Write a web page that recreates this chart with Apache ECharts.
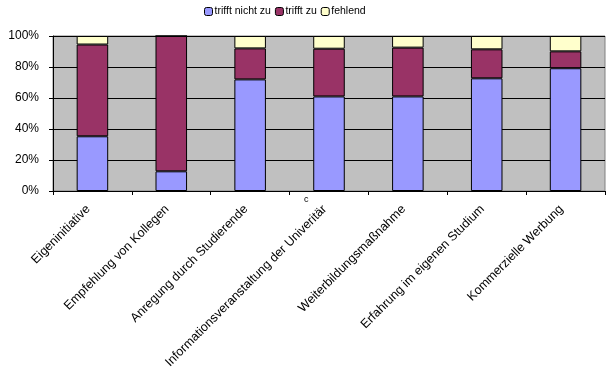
<!DOCTYPE html>
<html><head><meta charset="utf-8">
<script src="https://cdn.jsdelivr.net/npm/echarts@6/dist/echarts.min.js"></script>
<style>html,body{margin:0;padding:0;background:#fff}#c{width:614px;height:383px}</style>
</head><body><div id="c"></div>
<script>
const categories = ["Eigeninitiative","Empfehlung von Kollegen","Anregung durch Studierende","Informationsveranstaltung der Univeritär","Weiterbildungsmaßnahme","Erfahrung im eigenen Studium","Kommerzielle Werbung"];
const triffNichtZu = [35.3, 12.7, 72.0, 61.0, 61.0, 72.7, 79.2];
const trifftZu = [59.2, 87.3, 20.0, 30.8, 31.5, 18.7, 10.9];
const fehlend = [5.5, 0.0, 8.0, 8.2, 7.5, 8.6, 9.9];
const yTicks = [0, 20, 40, 60, 80, 100];

const chart = echarts.init(document.getElementById('c'), null, {renderer:'canvas'});
const font = 'Liberation Sans, Arial, sans-serif';
const bs = {borderColor:'#000', borderWidth:1};
chart.setOption({
  animation:false,
  textStyle:{fontFamily:font},
  legend:{
    top:1, left:199, itemWidth:8, itemHeight:8, itemGap:4,
    textStyle:{fontSize:10.5, color:'#000', fontFamily:font, padding:[0,0,0,-3]},
    itemStyle:{borderColor:'#000', borderWidth:1},
    data:['trifft nicht zu','trifft zu','fehlend']
  },
  grid:{left:53, right:9, top:36, bottom:192, backgroundColor:'#C0C0C0', show:true, borderColor:'#808080', borderWidth:1},
  xAxis:{
    type:'category', data:categories,
    axisLine:{lineStyle:{color:'#000', width:1}},
    axisTick:{show:true, alignWithLabel:false, length:4, lineStyle:{color:'#000'}},
    axisLabel:{rotate:45, fontSize:12.5, color:'#000', fontFamily:font, margin:12, padding:[0,6,0,0], interval:0}
  },
  yAxis:{
    type:'value', min:0, max:100, interval:20,
    axisLine:{show:true, lineStyle:{color:'#000'}},
    axisTick:{show:true, length:4, lineStyle:{color:'#000'}},
    splitLine:{lineStyle:{color:'#000', width:1}},
    axisLabel:{formatter:v=>yTicks.includes(v)?v+'%':'', fontSize:12, color:'#000', fontFamily:font, margin:14}
  },
  series:[
    {name:'trifft nicht zu', type:'bar', stack:'a', data:triffNichtZu, barWidth:'40%', itemStyle:{color:'#9999FF', ...bs}},
    {name:'trifft zu', type:'bar', stack:'a', data:trifftZu, itemStyle:{color:'#993366', ...bs}},
    {name:'fehlend', type:'bar', stack:'a', data:fehlend, itemStyle:{color:'#FFFFCC', ...bs}}
  ],
  graphic:[{type:'text', left:304, top:195, style:{text:'c', fill:'#000', font:'9px Liberation Sans, Arial, sans-serif'}}]
});
</script></body></html>
